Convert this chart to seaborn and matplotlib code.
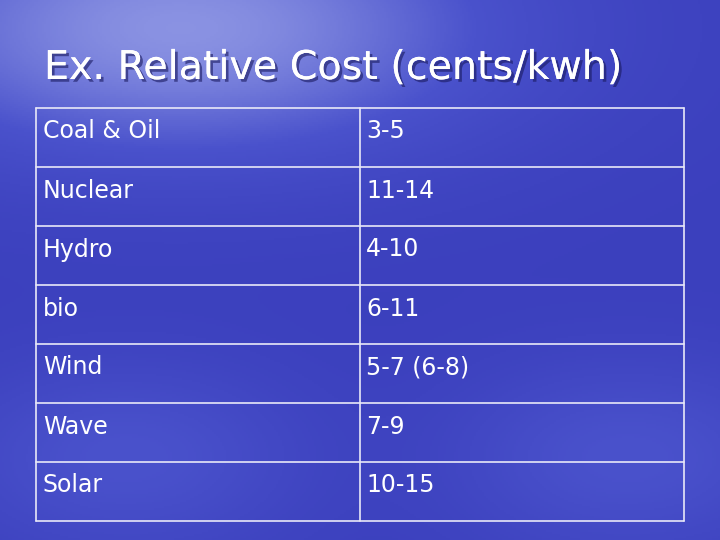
import numpy as np
import seaborn as sns
import matplotlib.pyplot as plt
import matplotlib.patheffects as pe
from matplotlib.colors import LinearSegmentedColormap

sources = ['Coal & Oil', 'Nuclear', 'Hydro', 'bio', 'Wind', 'Wave', 'Solar']
costs = ['3-5', '11-14', '4-10', '6-11', '5-7 (6-8)', '7-9', '10-15']
title = 'Ex. Relative Cost (cents/kwh)'

sns.set_style('white')
plt.rcParams['font.family'] = ['DejaVu Sans']

fig = plt.figure(figsize=(7.2, 5.4), dpi=100)

# background gradient
bg = fig.add_axes([0, 0, 1, 1])
yy, xx = np.mgrid[0:1:270j, 0:1:360j]
shade = 0.2 + 0.35 * np.exp(-((xx - 0.25) ** 2 / 0.2 + (yy - 0.05) ** 2 / 0.06)) \
    + 0.15 * np.exp(-((yy - 0.85) ** 2) / 0.03) * (0.6 + 0.4 * np.sin(xx * 9))
cmap = LinearSegmentedColormap.from_list('slide', ['#3234b4', '#4a52cc', '#9aa2e8'])
bg.imshow(shade, cmap=cmap, aspect='auto', extent=[0, 720, 540, 0], vmin=0.1, vmax=0.6)
bg.set_xlim(0, 720)
bg.set_ylim(540, 0)
bg.axis('off')

bg.text(44, 68, title, fontsize=28.5, color='white', va='center', ha='left',
        path_effects=[pe.withSimplePatchShadow(offset=(2, -2), shadow_rgbFace='#1a1a60', alpha=0.6),
                      pe.Normal()])

left, right, top, bottom, mid = 36, 684, 108, 521, 360
row_h = (bottom - top) / len(sources)
lw = 1.2
for i in range(len(sources) + 1):
    y = top + i * row_h
    bg.plot([left, right], [y, y], color='#e8e8f8', lw=lw)
for x in (left, mid, right):
    bg.plot([x, x], [top, bottom], color='#e8e8f8', lw=lw)

for i, (src, cost) in enumerate(zip(sources, costs)):
    yc = top + (i + 0.5) * row_h
    bg.text(43, yc - 6, src, fontsize=17, color='white', va='center')
    bg.text(366, yc - 6, cost, fontsize=17, color='white', va='center')

fig.savefig('out.png', dpi=100)
